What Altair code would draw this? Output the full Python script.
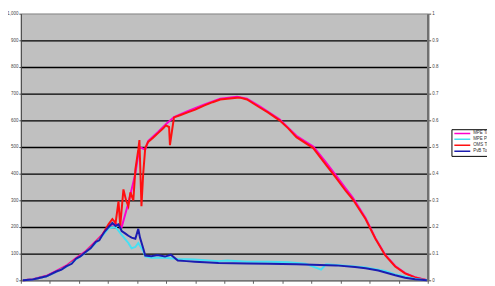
import altair as alt
import pandas as pd

series_names = ["MPE Tot", "MPE Pmin", "OMS Tot", "PvB Tot"]
series_colors = ["#ff00cc", "#44e0f4", "#ff1010", "#1c1cb0"]

# x in hours-like units (0..14), y in left-axis units (0..1000)
red_x = [0.07, 0.41, 0.88, 1.22, 1.56, 1.90, 2.24, 2.58, 2.79, 3.02, 3.15, 3.26, 3.36, 3.42, 3.53,
         3.62, 3.70, 3.77, 3.87, 3.94, 4.04, 4.08, 4.15, 4.21, 4.28, 4.38, 4.55, 4.72, 4.90, 4.99,
         5.10, 5.13, 5.20, 5.27, 5.50, 5.74, 6.00, 6.32, 6.60, 6.86, 7.10, 7.44, 7.54, 7.78, 8.22,
         8.50, 8.90, 9.20, 9.48, 10.06, 10.50, 10.84, 11.18, 11.42, 11.86, 12.20, 12.54, 12.88,
         13.22, 13.56, 13.97]
red_y = [0, 3, 15, 33, 52, 81, 107, 144, 167, 211, 230, 215, 296, 205, 341,
         300, 278, 330, 300, 415, 489, 526, 278, 400, 496, 519, 535, 552, 570, 581,
         575, 507, 560, 611, 620, 630, 640, 656, 668, 678, 681, 685, 685, 678, 648,
         630, 600, 570, 537, 496, 433, 385, 335, 304, 230, 156, 93, 52,
         26, 11, 0]

mag_x = [0.07, 0.41, 0.88, 1.22, 1.56, 1.90, 2.24, 2.58, 2.79, 3.02, 3.26, 3.47, 3.70, 3.94,
         4.08, 4.28, 4.38, 4.72, 4.99, 5.27, 5.74, 6.32, 6.86, 7.44, 7.78, 8.22, 8.90, 9.48,
         10.06, 10.50, 10.84, 11.18, 11.42, 11.86, 12.20, 12.54, 12.88, 13.22, 13.56, 13.97]
mag_y = [0, 4, 17, 35, 55, 84, 110, 147, 170, 205, 212, 200, 290, 400,
         500, 490, 522, 556, 585, 612, 634, 660, 681, 688, 681, 652, 604, 542,
         502, 442, 394, 344, 310, 234, 158, 95, 54, 27, 12, 0]

cyan_x = [0.07, 0.41, 0.88, 1.22, 1.56, 1.90, 2.24, 2.58, 2.79, 3.02, 3.26, 3.47, 3.70, 3.81,
          3.94, 4.04, 4.21, 4.28, 4.49, 4.96, 5.40, 5.98, 6.80, 7.10, 7.78, 8.50, 9.20, 9.80,
          10.33, 10.50, 11.18, 11.86, 12.54, 12.88, 13.56, 13.97]
cyan_y = [0, 3, 14, 32, 50, 78, 105, 140, 165, 195, 200, 170, 140, 120,
          125, 140, 110, 90, 85, 85, 80, 78, 72, 74, 70, 70, 68, 62,
          40, 60, 55, 48, 35, 22, 6, 0]

blue_x = [0.07, 0.41, 0.88, 1.22, 1.40, 1.56, 1.75, 1.90, 2.05, 2.24, 2.40, 2.58, 2.70, 2.79,
          2.90, 3.02, 3.15, 3.26, 3.36, 3.47, 3.60, 3.70, 3.81, 3.94, 4.04, 4.10, 4.21, 4.28,
          4.49, 4.70, 4.96, 5.16, 5.40, 5.70, 5.98, 6.32, 6.80, 7.78, 8.50, 9.48, 10.84, 11.50,
          11.86, 12.30, 12.88, 13.22, 13.56, 13.97]
blue_y = [0, 3, 15, 33, 40, 52, 62, 81, 90, 107, 120, 144, 150, 167,
          185, 200, 215, 204, 210, 185, 175, 167, 160, 156, 193, 160, 120, 93,
          90, 95, 89, 96, 74, 72, 70, 68, 65, 63, 62, 60, 56, 50,
          45, 37, 19, 10, 4, 0]

left_ticks = [0, 100, 200, 300, 400, 500, 600, 700, 800, 900, 1000]
right_ticks = [0, 0.1, 0.2, 0.3, 0.4, 0.5, 0.6, 0.7, 0.8, 0.9, 1]
x_ticks = list(range(0, 15))

series_data = [
    (series_names[0], mag_x, mag_y),
    (series_names[2], red_x, red_y),
    (series_names[1], cyan_x, cyan_y),
    (series_names[3], blue_x, blue_y),
]

xs = alt.X("x:Q", scale=alt.Scale(domain=[0, 14], nice=False),
           axis=alt.Axis(values=x_ticks, labels=False, title=None, grid=False,
                         domain=True, domainColor="#606060", tickColor="#606060",
                         tickSize=3))
ys = alt.Y("y:Q", scale=alt.Scale(domain=[0, 1000], nice=False),
           axis=alt.Axis(values=left_ticks, title=None, labelFontSize=4.5,
                         labelColor="#444444", labelFont="Liberation Sans",
                         tickSize=2, tickColor="#505050",
                         domainColor="#404040", domainWidth=1,
                         gridColor=alt.expr("datum.value >= 1000 || datum.value <= 0 ? '#a0a0a0' : '#000000'"),
                         gridWidth=1.3, labelPadding=1))
color = alt.Color("series:N",
                  scale=alt.Scale(domain=series_names, range=series_colors),
                  legend=alt.Legend(title=None, orient="none", legendX=436, legendY=117,
                                    symbolType="stroke", symbolSize=260, symbolStrokeWidth=1.5,
                                    labelFontSize=4.5, labelFont="Liberation Sans",
                                    labelColor="#333333", rowPadding=0, padding=2,
                                    clipHeight=4.5,
                                    strokeColor="#000000", fillColor="#ffffff",
                                    labelLimit=60, labelOffset=2))

layers = []
for name, sx, sy in series_data:
    df = pd.DataFrame({"x": sx, "y": sy, "series": name})
    layers.append(alt.Chart(df).mark_line(strokeWidth=2).encode(x=xs, y=ys, color=color))

left = alt.layer(*layers)

right_df = pd.DataFrame({"r": right_ticks})
right = alt.Chart(right_df).mark_point(opacity=0).encode(
    y=alt.Y("r:Q", scale=alt.Scale(domain=[0, 1], nice=False),
            axis=alt.Axis(orient="right", values=right_ticks, format="~g", title=None,
                          labelFontSize=4.5, labelColor="#444444", labelFont="Liberation Sans",
                          tickSize=3, tickColor="#505050", domainColor="#707070",
                          domainWidth=2.5, grid=False, labelPadding=1))
)

chart = alt.layer(left, right).resolve_scale(y="independent").properties(
    width=412, height=270,
    autosize=alt.AutoSizeParams(type="none"),
    padding={"left": 13, "top": 4, "right": 60, "bottom": 3},
    background="#ffffff",
).configure_view(fill="#c0c0c0", stroke="#909090", strokeWidth=1)

chart.save("out.html", embed_options={"renderer": "svg", "actions": False})
